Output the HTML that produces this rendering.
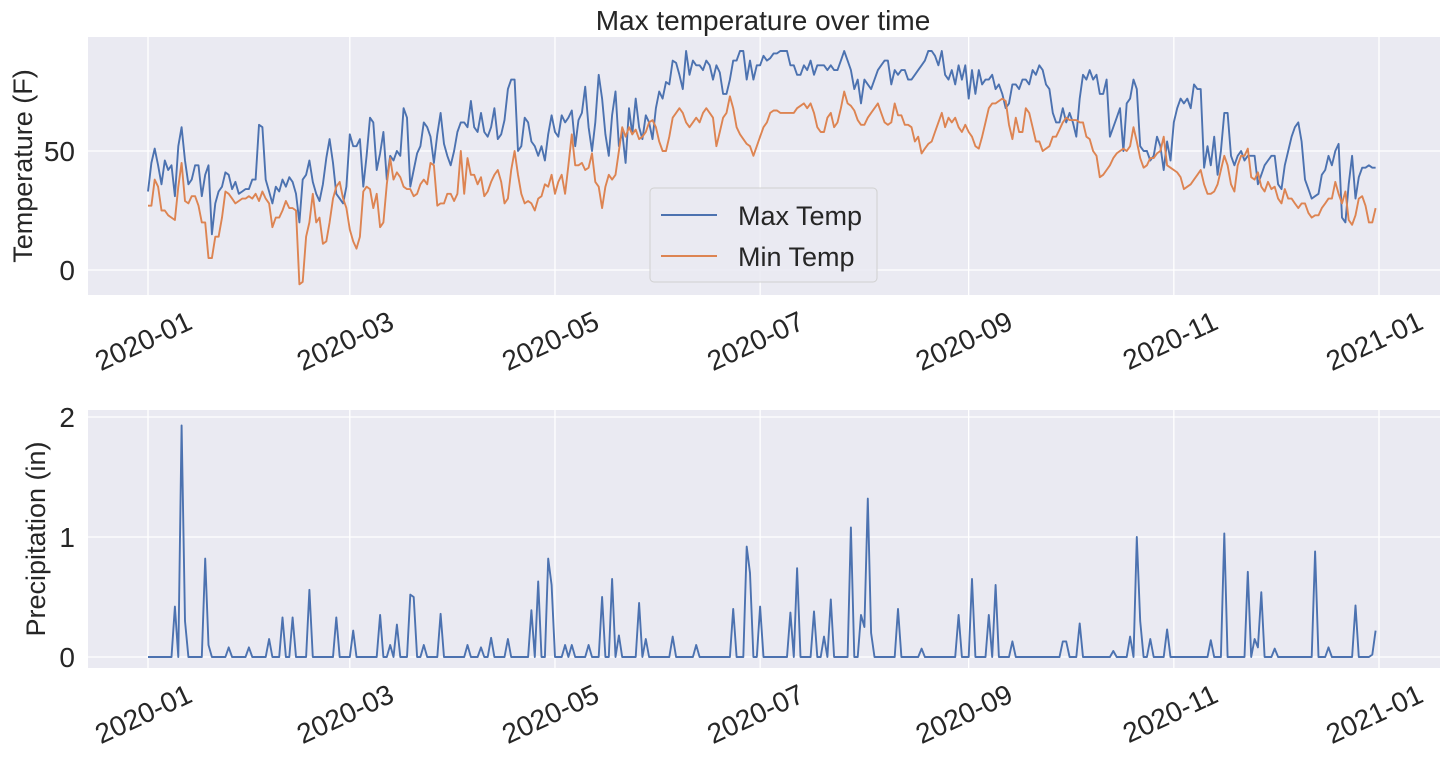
<!DOCTYPE html>
<html><head><meta charset="utf-8"><style>
body{margin:0;background:#fff;}
svg{display:block;font-family:"Liberation Sans",Arial,sans-serif;}
</style></head><body>
<svg id="chart" width="1450" height="759" xmlns="http://www.w3.org/2000/svg"></svg>
<script>
const maxTemp=[33,45,51,44,36,46,42,44,31,52,60,46,36,38,44,44,31,40,44,15,28,33,35,41,40,34,37,32,33,34,34,
38,38,61,60,38,33,28,35,33,38,35,39,37,32,20,38,40,46,37,32,29,36,47,55,45,32,30,28,35,
57,52,52,55,35,48,64,62,42,49,58,38,48,46,50,48,68,64,35,42,49,52,62,60,56,45,57,66,53,48,44,
50,58,62,62,60,71,60,58,66,58,56,60,68,55,57,63,76,80,80,50,52,64,62,54,52,48,52,46,57,65,
58,56,65,62,64,67,52,63,66,77,60,50,62,82,72,57,48,65,75,52,58,45,68,57,72,60,55,65,62,55,68,
75,72,79,78,88,87,82,76,92,82,88,86,86,84,88,86,80,86,83,74,74,80,88,88,92,92,80,88,80,86,
86,90,88,89,91,91,92,92,92,86,86,82,82,86,84,88,82,86,86,86,84,86,84,84,88,92,88,84,76,80,70,
80,78,76,80,84,86,88,88,78,84,82,84,84,80,80,82,84,86,88,92,92,90,86,92,82,80,84,78,86,80,86,
72,84,74,84,78,80,80,82,76,78,74,68,70,78,78,76,80,80,78,84,82,86,84,78,76,66,62,62,68,62,
66,62,56,72,82,80,84,80,82,74,74,80,56,60,64,68,50,70,72,80,76,52,50,50,46,48,56,52,42,54,46,
62,68,72,70,72,68,78,76,76,43,52,44,56,40,50,66,66,48,44,48,50,46,48,48,48,36,40,44,46,48,
48,36,34,44,50,56,60,62,54,38,34,30,31,32,40,42,48,44,50,53,22,20,36,48,30,39,43,43,44,43,43];
const minTemp=[27,27,38,35,25,25,23,22,21,35,45,29,28,31,31,27,20,20,5,5,14,14,22,33,32,30,28,29,30,30,31,
30,32,29,33,30,28,18,22,22,25,29,26,26,25,-6,-5,14,20,32,20,22,11,12,20,30,35,37,30,26,
17,12,9,14,33,35,34,26,32,18,20,36,47,38,41,39,35,34,34,31,32,36,38,36,45,44,27,28,28,32,32,
29,32,50,32,47,40,40,36,39,31,33,37,40,42,37,28,30,42,50,40,32,28,29,28,25,30,31,36,35,40,
32,37,40,32,44,57,44,44,45,42,43,49,37,35,26,35,40,38,40,50,60,56,60,57,59,55,56,58,62,63,
60,54,50,50,56,64,66,68,66,62,60,62,64,62,66,68,66,64,52,58,64,66,73,68,60,57,55,53,52,48,
52,56,60,62,66,67,67,66,66,66,66,66,68,69,70,68,70,66,60,58,58,64,66,60,62,68,75,70,69,67,63,
61,61,64,66,68,70,66,62,61,62,70,65,65,61,61,60,54,56,49,51,53,54,58,62,66,60,64,62,64,60,58,
61,58,56,52,51,56,62,68,70,70,71,72,71,61,55,64,58,58,68,66,60,54,54,50,51,52,56,56,59,62,64,
63,63,63,62,62,56,55,50,48,39,40,42,44,47,49,50,51,50,52,60,54,47,43,44,47,47,49,50,56,44,43,
42,41,39,34,35,36,38,40,42,36,32,32,33,36,42,48,44,36,33,44,48,48,51,39,38,41,35,33,37,34,
35,30,28,34,30,30,28,26,28,28,24,22,23,23,26,28,30,30,37,32,28,33,21,19,23,30,31,27,20,20,26];
const precipDays=[8,10,11,17,18,24,30,36,40,43,48,56,61,69,72,74,78,79,82,87,95,99,102,107,114,116,119,120,124,126,131,135,138,140,146,148,156,163,174,178,179,182,191,193,198,201,203,209,212,213,214,215,223,230,241,245,250,252,257,272,273,277,287,292,294,295,298,303,316,320,327,329,330,331,335,347,351,359,364,365];
const precipVals=[0.42,1.93,0.3,0.82,0.1,0.08,0.08,0.15,0.33,0.33,0.56,0.33,0.22,0.35,0.1,0.27,0.52,0.5,0.1,0.36,0.1,0.08,0.16,0.15,0.39,0.63,0.82,0.6,0.1,0.1,0.1,0.5,0.65,0.18,0.45,0.15,0.17,0.1,0.4,0.92,0.7,0.42,0.37,0.74,0.38,0.17,0.48,1.08,0.35,0.25,1.32,0.2,0.4,0.07,0.35,0.65,0.35,0.6,0.13,0.13,0.13,0.28,0.05,0.17,1.0,0.3,0.15,0.23,0.14,1.03,0.71,0.15,0.08,0.54,0.07,0.88,0.08,0.43,0.02,0.22];
const xTickDays=[0,60,121,182,244,305,366];
const xTickLabels=["2020-01","2020-03","2020-05","2020-07","2020-09","2020-11","2021-01"];
const tempTicks=[0,50];
const precipTicks=[0,1,2];

const NS="http://www.w3.org/2000/svg";
const svg=document.getElementById('chart');
function mk(tag,attrs,parent){const e=document.createElementNS(NS,tag);for(const k in attrs)e.setAttribute(k,attrs[k]);(parent||svg).appendChild(e);return e;}
const X0=88,X1=1440;
const xs=d=>148+d*(1379-148)/366;
const yT=v=>270-v*(270-151)/50;
const yP=v=>657-v*120;
const precip=new Array(366).fill(0);
precipDays.forEach((d,i)=>{precip[d]=precipVals[i];});

function panel(top,bot,yfun,ticks,name){
  const bg=mk('rect',{x:X0,y:top,width:X1-X0,height:bot-top,fill:'#eaeaf2'});
  
  
  xTickDays.forEach((d,i)=>{
    const x=xs(d);
    const g=mk('line',{x1:x,x2:x,y1:top,y2:bot,stroke:'#fff','stroke-width':1.3});
    
    
    const ax=x+46, ay=bot+33;
    const t=mk('text',{x:ax,y:ay,'text-anchor':'end','font-size':28,fill:'#262626',transform:`rotate(-25 ${ax} ${ay})`});
    t.textContent=xTickLabels[i];
    
    
  });
  ticks.forEach(v=>{
    const y=yfun(v);
    const g=mk('line',{x1:X0,x2:X1,y1:y,y2:y,stroke:'#fff','stroke-width':1.3});
    
    
    const t=mk('text',{x:75,y:y+10,'text-anchor':'end','font-size':28,fill:'#262626'});
    t.textContent=v;
    
    
  });
}
function series(arr,yfun,color,name){
  const p=arr.map((v,i)=>(i?'L':'M')+xs(i).toFixed(1)+','+yfun(v).toFixed(1)).join('');
  const e=mk('path',{d:p,fill:'none',stroke:color,'stroke-width':1.9,'stroke-linejoin':'round'});
  
  
}
panel(37,295,yT,tempTicks,'temp');
series(maxTemp,yT,'#4c72b0','max-temp-line');
series(minTemp,yT,'#dd8452','min-temp-line');
panel(410,668,yP,precipTicks,'precip');
series(precip,yP,'#4c72b0','precipitation-line');

let t=mk('text',{x:763,y:30,'text-anchor':'middle','font-size':28,fill:'#262626'});t.textContent='Max temperature over time';


t=mk('text',{x:0,y:0,'text-anchor':'middle','font-size':27,fill:'#262626',transform:'translate(32,166) rotate(-90)'});t.textContent='Temperature (F)';


t=mk('text',{x:0,y:0,'text-anchor':'middle','font-size':27,fill:'#262626',transform:'translate(45,539) rotate(-90)'});t.textContent='Precipitation (in)';



const lg=mk('g',{});


mk('rect',{x:650,y:188,width:227,height:94,rx:4,fill:'#eaeaf2','fill-opacity':0.85,stroke:'#d0d0d0'},lg);
[['Max Temp','#4c72b0',215],['Min Temp','#dd8452',256]].forEach(([lab,c,y])=>{
  const g=mk('g',{},lg);
  
  
  mk('line',{x1:661,x2:717,y1:y,y2:y,stroke:c,'stroke-width':2},g);
  const tt=mk('text',{x:738,y:y+10,'font-size':27,fill:'#262626'},g);tt.textContent=lab;
});
</script>
</body></html>
